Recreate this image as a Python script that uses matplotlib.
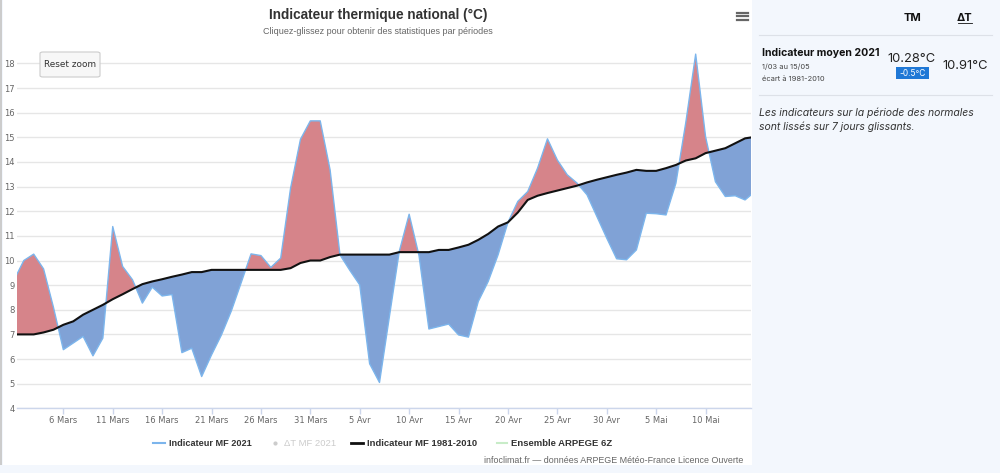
import matplotlib
matplotlib.use('Agg')
import matplotlib.pyplot as plt
import matplotlib.dates as mdates
from matplotlib.patches import Rectangle, FancyBboxPatch
from matplotlib.lines import Line2D
import numpy as np
import pandas as pd

# ---------------- data ----------------
start_date = '2021-03-01'
tm_2021 = [9.2, 10.0, 10.26, 9.66, 8.1, 6.38, 6.65, 6.92, 6.13, 6.85,
           11.38, 9.76, 9.22, 8.27, 8.92, 8.56, 8.62, 6.26, 6.44, 5.29,
           6.17, 6.98, 7.95, 9.1, 10.27, 10.2, 9.72, 10.1, 12.94, 14.92,
           15.67, 15.67, 13.68, 10.23, 9.6, 9.01, 5.81, 5.05, 7.72, 10.37,
           11.88, 10.2, 7.22, 7.32, 7.42, 6.98, 6.89, 8.34, 9.15, 10.23,
           11.55, 12.4, 12.8, 13.75, 14.94, 14.08, 13.48, 13.14, 12.67, 11.79,
           10.91, 10.07, 10.03, 10.43, 11.92, 11.9, 11.85, 13.14, 15.6, 18.38,
           15.03, 13.2, 12.6, 12.63, 12.46, 12.8]
tm_1981_2010 = [7.0, 7.0, 7.0, 7.08, 7.19, 7.39, 7.53, 7.8, 8.0, 8.2,
                8.43, 8.63, 8.84, 9.04, 9.15, 9.24, 9.34, 9.43, 9.53, 9.53,
                9.62, 9.62, 9.62, 9.62, 9.62, 9.62, 9.62, 9.62, 9.69, 9.9,
                10.0, 10.0, 10.14, 10.24, 10.24, 10.24, 10.24, 10.24, 10.24, 10.34,
                10.34, 10.34, 10.34, 10.43, 10.43, 10.53, 10.64, 10.84, 11.08, 11.38,
                11.55, 11.95, 12.46, 12.63, 12.74, 12.84, 12.94, 13.04, 13.17, 13.28,
                13.38, 13.48, 13.57, 13.68, 13.64, 13.64, 13.75, 13.88, 14.06, 14.15,
                14.36, 14.46, 14.56, 14.76, 14.96, 15.02]
tick_dates = ['2021-03-06', '2021-03-11', '2021-03-16', '2021-03-21', '2021-03-26',
              '2021-03-31', '2021-04-05', '2021-04-10', '2021-04-15', '2021-04-20',
              '2021-04-25', '2021-04-30', '2021-05-05', '2021-05-10']
tick_labels = ['6 Mars', '11 Mars', '16 Mars', '21 Mars', '26 Mars', '31 Mars',
               '5 Avr', '10 Avr', '15 Avr', '20 Avr', '25 Avr', '30 Avr',
               '5 Mai', '10 Mai']
y_ticks = list(range(4, 19))

# ---------------- figure ----------------
W, H = 1000, 473
def fx(px): return px / W
def fy(py): return 1 - py / H

RED = '#d6848a'
BLUE = '#80a2d6'
LINE_BLUE = '#7cb5ec'

fig = plt.figure(figsize=(10, 4.73), dpi=100, facecolor='#f3f7fd')
fig.patches.append(Rectangle((fx(3), fy(465)), fx(749), 465 / H, transform=fig.transFigure,
                             facecolor='white', edgecolor='none', zorder=-5))
fig.patches.append(Rectangle((0, fy(465)), fx(2), 465 / H, transform=fig.transFigure,
                             facecolor='#cccccc', edgecolor='none', zorder=-4))

dates = pd.date_range(start_date, periods=len(tm_2021))
x = mdates.date2num(dates.to_pydatetime())
y21 = np.array(tm_2021)
yn = np.array(tm_1981_2010)

ax = fig.add_axes([fx(16.7), fy(408.3), fx(751 - 16.7), (408.3 - 45) / H])
ax.set_facecolor('none')
ax.fill_between(x, y21, yn, where=y21 >= yn, interpolate=True, facecolor=RED, lw=0, zorder=2)
ax.fill_between(x, y21, yn, where=y21 < yn, interpolate=True, facecolor=BLUE, lw=0, zorder=2)
ax.plot(x, y21, color=LINE_BLUE, lw=1, zorder=3)
ax.plot(x, yn, color='#111111', lw=1.5, zorder=4)

ax.set_xlim(x[0] + 0.28, x[0] + 74.6)
ax.set_ylim(4, 18.75)
ax.set_yticks(y_ticks)
ax.set_xticks(mdates.date2num(pd.to_datetime(tick_dates).to_pydatetime()))
ax.set_xticklabels(tick_labels)
ax.grid(axis='y', color='#e6e6e6', lw=1)
ax.set_axisbelow(True)
for s in ['left', 'right', 'top']:
    ax.spines[s].set_visible(False)
ax.spines['bottom'].set_color('#ccd6eb')
ax.spines['bottom'].set_linewidth(1)
ax.tick_params(axis='y', length=0, pad=1.3, labelsize=6, labelcolor='#666666')
ax.tick_params(axis='x', length=4, width=1, color='#ccd6eb', pad=1.5,
               labelsize=6, labelcolor='#666666')

# title / subtitle
fig.text(fx(378), fy(15), 'Indicateur thermique national (°C)', ha='center', va='center',
         fontsize=9.8, fontweight='bold', color='#333333', family='Liberation Sans')
fig.text(fx(378), fy(31), 'Cliquez-glissez pour obtenir des statistiques par périodes',
         ha='center', va='center', fontsize=6.5, color='#666666', family='Liberation Sans')

# reset zoom button
fig.patches.append(FancyBboxPatch((fx(40), fy(77)), fx(60), 25 / H,
                                  boxstyle='round,pad=0,rounding_size=0.003',
                                  transform=fig.transFigure, facecolor='#f7f7f7',
                                  edgecolor='#cccccc', lw=0.8, zorder=5))
fig.text(fx(70), fy(64.5), 'Reset zoom', ha='center', va='center', fontsize=6.4,
         color='#333333', zorder=6)

# hamburger
for yy in [13, 16.5, 20]:
    fig.add_artist(Line2D([fx(737), fx(748)], [fy(yy), fy(yy)], color='#666666', lw=1.6))

# legend
ly = fy(443)
LF = 'Liberation Sans'
fig.add_artist(Line2D([fx(153), fx(165)], [ly, ly], color=LINE_BLUE, lw=1.5))
fig.text(fx(169), ly, 'Indicateur MF 2021', ha='left', va='center', fontsize=6.6,
         fontweight='bold', color='#333333', family=LF)
fig.add_artist(Line2D([fx(275)], [ly], marker='o', ms=2, color='#cccccc', lw=0))
fig.text(fx(284), ly, 'ΔT MF 2021', ha='left', va='center', fontsize=6.8,
         color='#cccccc', family=LF)
fig.add_artist(Line2D([fx(351), fx(363)], [ly, ly], color='#111111', lw=2))
fig.text(fx(367), ly, 'Indicateur MF 1981-2010', ha='left', va='center', fontsize=6.8,
         fontweight='bold', color='#333333', family=LF)
fig.add_artist(Line2D([fx(497), fx(507)], [ly, ly], color='#c8ecc8', lw=1.5))
fig.text(fx(511), ly, 'Ensemble ARPEGE 6Z', ha='left', va='center', fontsize=6.8,
         fontweight='bold', color='#333333', family=LF)
fig.text(fx(743), fy(460), 'infoclimat.fr — données ARPEGE Météo-France Licence Ouverte',
         ha='right', va='center', fontsize=6.4, color='#666666', family=LF)

# right panel
PF = 'Inter'
fig.text(fx(912), fy(18), 'TM', ha='center', va='center', fontsize=8,
         fontweight='bold', color='#111111', family=PF)
fig.text(fx(965), fy(18), 'ΔT', ha='center', va='center', fontsize=8,
         fontweight='bold', color='#111111', family=PF)
fig.add_artist(Line2D([fx(958), fx(972)], [fy(23.5), fy(23.5)], color='#111111', lw=0.6))
fig.add_artist(Line2D([fx(759), fx(992)], [fy(35), fy(35)], color='#dde1e8', lw=0.8))
fig.text(fx(762), fy(53), 'Indicateur moyen 2021', ha='left', va='center', fontsize=7.6,
         fontweight='bold', color='#111111', family=PF)
fig.text(fx(762), fy(67), '1/03 au 15/05', ha='left', va='center', fontsize=5.4,
         color='#444444', family=PF)
fig.text(fx(762), fy(79), 'écart à 1981-2010', ha='left', va='center', fontsize=5.4,
         color='#444444', family=PF)
fig.text(fx(912), fy(59), '10.28°C', ha='center', va='center', fontsize=9.3,
         color='#222222', family=PF)
fig.patches.append(Rectangle((fx(896), fy(79)), fx(33), 12 / H, transform=fig.transFigure,
                             facecolor='#1f78d6', edgecolor='none'))
fig.text(fx(912.5), fy(73), '-0.5°C', ha='center', va='center', fontsize=6,
         color='white', family=PF)
fig.text(fx(965), fy(66), '10.91°C', ha='center', va='center', fontsize=9.3,
         color='#222222', family=PF)
fig.add_artist(Line2D([fx(759), fx(992)], [fy(95), fy(95)], color='#dde1e8', lw=0.8))
fig.text(fx(759), fy(113), 'Les indicateurs sur la période des normales', ha='left',
         va='center', fontsize=7.5, style='italic', color='#333333', family=PF)
fig.text(fx(759), fy(127), 'sont lissés sur 7 jours glissants.', ha='left',
         va='center', fontsize=7.5, style='italic', color='#333333', family=PF)

fig.savefig('out.png', dpi=100, facecolor=fig.get_facecolor())
